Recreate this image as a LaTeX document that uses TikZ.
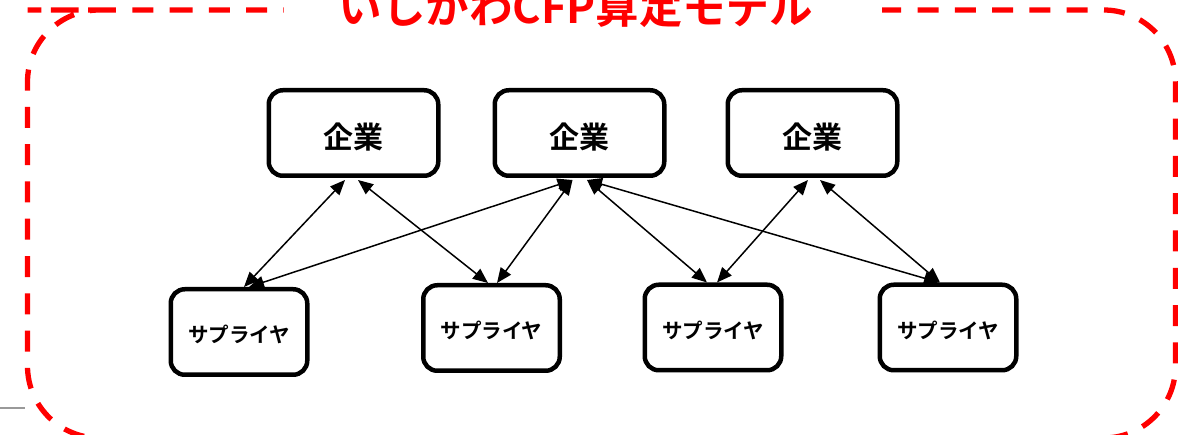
\documentclass[tikz,border=0pt]{standalone}
\usepackage{fontspec}
\newfontfamily\jpb{Noto Sans CJK JP Bold}
\usetikzlibrary{arrows.meta}
\definecolor{titlered}{RGB}{255,0,0}
\tikzset{
  kbox/.style={draw=black, line width=4.5pt, rounded corners=14pt, minimum width=169.5pt, minimum height=85.5pt, inner sep=0pt, fill=white, text height=31pt, text depth=0pt, font=\jpb\fontsize{30pt}{34pt}\selectfont},
  sbox/.style={draw=black, line width=4.5pt, rounded corners=14pt, minimum width=136.5pt, minimum height=85.5pt, inner sep=0pt, fill=white, text height=22pt, text depth=0pt, font=\jpb\fontsize{20.5pt}{24pt}\selectfont},
  link/.style={{Triangle[length=15pt,width=12.5pt]}-{Triangle[length=15pt,width=12.5pt]}, line width=1.5pt},
  frame/.style={draw=titlered, line width=5.3pt, dash pattern=on 21pt off 16.3pt, rounded corners=72pt},
}
\begin{document}
\begin{tikzpicture}[x=1pt,y=-1pt]
\useasboundingbox (0,0) rectangle (1178,435);
% dashed frame
\draw[frame] (99.5,10) -- (1175.5,10) -- (1175.5,438) -- (27.5,438) -- (27.5,10) -- cycle;
\fill[white] (284,0) rectangle (882,20);
\node[text=titlered, anchor=base, font=\jpb\fontsize{43.5pt}{48pt}\selectfont, inner sep=0pt] (title) at (576,24) {いしかわCFP算定モデル};
% fragment at left
\draw[black!40, line width=2pt] (0,408) -- (25,408);
% companies
\node[kbox] (k1) at (353.5,133) {企業};
\node[kbox] (k2) at (579.5,133) {企業};
\node[kbox] (k3) at (812.5,133) {企業};
% suppliers
\node[sbox] (s1) at (239,332) {サプライヤ};
\node[sbox] (s2) at (491.5,328) {サプライヤ};
\node[sbox] (s3) at (713,327.5) {サプライヤ};
\node[sbox] (s4) at (948,327.5) {サプライヤ};
% links
\draw[link] ([xshift=-8.5pt,yshift=-2pt]k1.south) -- ([xshift=5pt]s1.north);
\draw[link] ([xshift=4.5pt,yshift=-2pt]k1.south) -- ([xshift=-3.5pt]s2.north);
\draw[link] ([xshift=-7pt,yshift=-2pt]k2.south) -- ([xshift=10pt]s1.north);
\draw[link] ([xshift=-7pt,yshift=-2pt]k2.south) -- ([xshift=5.5pt]s2.north);
\draw[link] ([xshift=7.5pt,yshift=-2pt]k2.south) -- ([xshift=-6pt]s3.north);
\draw[link] ([xshift=7.5pt,yshift=-2pt]k2.south) -- ([xshift=-9pt]s4.north);
\draw[link] ([xshift=-4.5pt,yshift=-2pt]k3.south) -- ([xshift=4pt]s3.north);
\draw[link] ([xshift=7.5pt,yshift=-2pt]k3.south) -- ([xshift=-8pt]s4.north);
\end{tikzpicture}
\end{document}
